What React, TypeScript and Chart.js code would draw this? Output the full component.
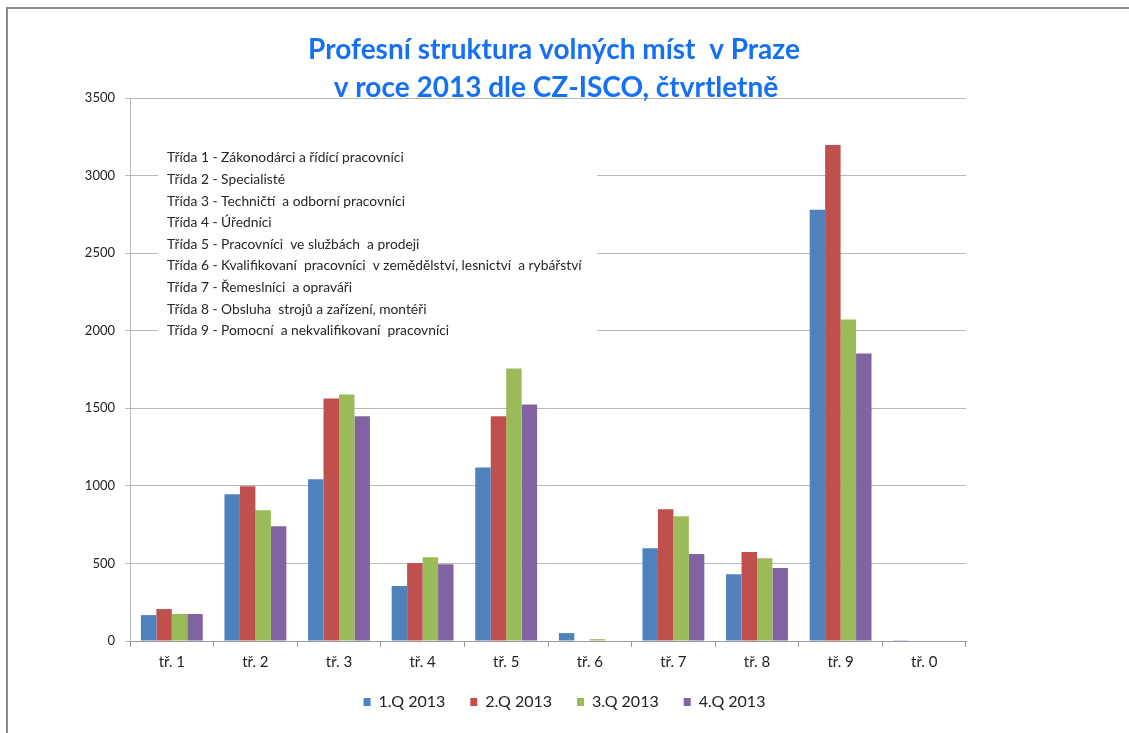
import React, { useEffect, useRef } from "react";
import { Chart, registerables } from "chart.js";

Chart.register(...registerables);

const categories = ["tř. 1", "tř. 2", "tř. 3", "tř. 4", "tř. 5", "tř. 6", "tř. 7", "tř. 8", "tř. 9", "tř. 0"];
const seriesLabels = ["1.Q 2013", "2.Q 2013", "3.Q 2013", "4.Q 2013"];
const q1Values = [167, 946, 1042, 354, 1119, 51, 598, 431, 2779, 5];
const q2Values = [206, 997, 1563, 502, 1448, 0, 849, 573, 3197, 0];
const q3Values = [174, 843, 1589, 540, 1756, 12, 804, 534, 2072, 0];
const q4Values = [174, 740, 1448, 495, 1525, 0, 560, 470, 1853, 0];
const seriesColors = ["#4F81BD", "#C0504D", "#9BBB59", "#8064A2"];
const titleLines = ["Profesní struktura volných míst  v Praze", "v roce 2013 dle CZ-ISCO, čtvrtletně"];
const classNotes = [
  "Třída 1 - Zákonodárci a řídící pracovníci",
  "Třída 2 - Specialisté",
  "Třída 3 - Techničtí  a odborní pracovníci",
  "Třída 4 - Úředníci",
  "Třída 5 - Pracovníci  ve službách  a prodeji",
  "Třída 6 - Kvalifikovaní  pracovníci  v zemědělství, lesnictví  a rybářství",
  "Třída 7 - Řemeslníci  a opraváři",
  "Třída 8 - Obsluha  strojů a zařízení, montéři",
  "Třída 9 - Pomocní  a nekvalifikovaní  pracovníci",
];
const yMax = 3500;
const yStep = 500;

const FONT = "Lato, 'Open Sans', sans-serif";

export default function App() {
  const canvasRef = useRef<HTMLCanvasElement | null>(null);

  useEffect(() => {
    const canvas = canvasRef.current;
    if (!canvas) return;

    const framePlugin = {
      id: "frame",
      beforeDraw(chart: any) {
        const ctx = chart.ctx;
        ctx.save();
        ctx.fillStyle = "#ffffff";
        ctx.fillRect(0, 0, chart.width, chart.height);
        ctx.strokeStyle = "#8a8a8a";
        ctx.lineWidth = 2;
        ctx.beginPath();
        ctx.moveTo(7, chart.height);
        ctx.lineTo(7, 8);
        ctx.lineTo(chart.width, 8);
        ctx.stroke();
        ctx.restore();
      },
    };

    const titlePlugin = {
      id: "customTitle",
      afterDraw(chart: any) {
        const ctx = chart.ctx;
        ctx.save();
        ctx.fillStyle = "#1570F5";
        ctx.font = "bold 28px " + FONT;
        ctx.textAlign = "center";
        ctx.textBaseline = "middle";
        ctx.fillText(titleLines[0], 554, 50);
        ctx.fillText(titleLines[1], 556, 88);
        ctx.restore();
      },
    };

    const notesPlugin = {
      id: "notesBox",
      beforeDatasetsDraw(chart: any) {
        const ctx = chart.ctx;
        ctx.save();
        ctx.fillStyle = "#ffffff";
        ctx.fillRect(158, 144, 439, 198);
        ctx.fillStyle = "#262626";
        ctx.font = "13.8px " + FONT;
        ctx.textAlign = "left";
        ctx.textBaseline = "middle";
        classNotes.forEach((t, i) => {
          ctx.fillText(t, 167, 158 + i * 21.6);
        });
        ctx.restore();
      },
    };

    const values = [q1Values, q2Values, q3Values, q4Values];

    const chart = new Chart(canvas, {
      type: "bar",
      data: {
        labels: categories,
        datasets: seriesLabels.map((label, i) => ({
          label,
          data: values[i],
          backgroundColor: seriesColors[i],
          borderWidth: 0,
          categoryPercentage: 0.74,
          barPercentage: 1.0,
          yAxisID: "y",
        })),
      },
      options: {
        responsive: false,
        animation: false,
        layout: { padding: { top: 98, right: 0, bottom: 13, left: 0 } },
        plugins: {
          title: { display: false },
          tooltip: { enabled: false },
          legend: {
            display: true,
            position: "bottom",
            labels: {
              boxWidth: 7,
              boxHeight: 8,
              padding: 25,
              color: "#222222",
              font: { family: FONT, size: 16 },
            },
          },
        },
        scales: {
          x: {
            offset: true,
            grid: {
              display: true,
              drawOnChartArea: false,
              drawTicks: true,
              tickLength: 6,
              offset: true,
              color: "#9a9a9a",
            },
            border: { display: true, color: "#9a9a9a", width: 1 },
            ticks: {
              color: "#222222",
              padding: 6,
              font: { family: FONT, size: 15 },
            },
            afterFit(scale: any) {
              scale.height = 28;
            },
          },
          y: {
            min: 0,
            max: yMax,
            ticks: {
              stepSize: yStep,
              color: "#222222",
              padding: 10,
              font: { family: FONT, size: 13 },
              callback: (v: any) => String(v),
            },
            grid: {
              color: "#b8b8b8",
              drawTicks: true,
              tickLength: 5,
            },
            border: { display: true, color: "#b8b8b8", width: 1 },
            afterFit(scale: any) {
              scale.width = 130;
            },
          },
          spacer: {
            position: "right",
            display: true,
            grid: { display: false },
            border: { display: false },
            ticks: { display: false },
            afterFit(scale: any) {
              scale.width = 163;
            },
          },
        },
      },
      plugins: [framePlugin, notesPlugin, titlePlugin],
    });

    return () => {
      chart.destroy();
    };
  }, []);

  return (
    <div style={{ position: "absolute", left: 0, top: 0, width: 1129, height: 733 }}>
      <canvas ref={canvasRef} width={1129} height={733} style={{ display: "block" }} />
    </div>
  );
}
